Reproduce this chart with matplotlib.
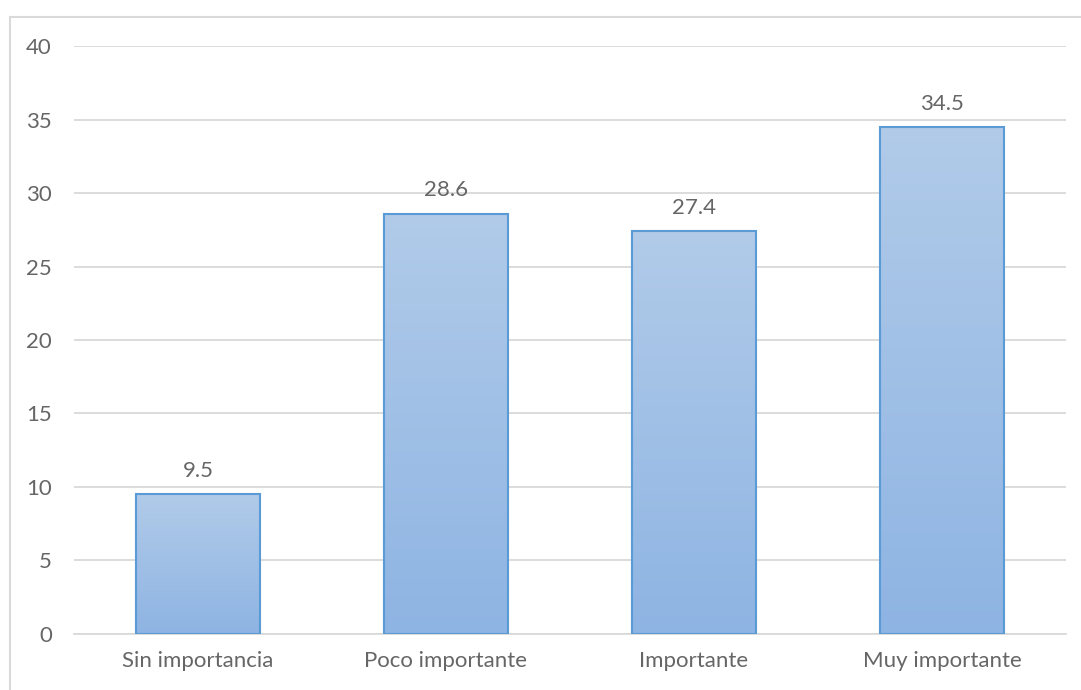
import numpy as np
import matplotlib
matplotlib.use('Agg')
import matplotlib.pyplot as plt
from matplotlib.colors import LinearSegmentedColormap
from matplotlib.patches import Rectangle

categories = ['Sin importancia', 'Poco importante', 'Importante', 'Muy importante']
values = [9.5, 28.6, 27.4, 34.5]
yticks = [0, 5, 10, 15, 20, 25, 30, 35, 40]

plt.rcParams['font.family'] = ['Lato', 'DejaVu Sans']
txt = '#666666'
fs = 16

fig = plt.figure(figsize=(10.81, 6.9), dpi=100)
ax = fig.add_axes([0.0685, 0.0812, 0.9175, 0.8521])

# outer chart border (left and top only visible)
fig.add_artist(Rectangle((10/1081, -0.1), 1.2, 1 - 17/690 + 0.1,
                         transform=fig.transFigure, fill=False,
                         edgecolor='#d9d9d9', lw=1.5))

x = np.arange(len(categories))
bars = ax.bar(x, values, width=0.5, color='none', edgecolor='#5b9bd5',
              lw=1.5, zorder=3)

cmap = LinearSegmentedColormap.from_list('g', ['#8eb4e3', '#b1cbe9'])
grad = np.linspace(0, 1, 256).reshape(-1, 1)
for b, v in zip(bars, values):
    im = ax.imshow(grad, cmap=cmap, origin='lower', aspect='auto',
                   extent=[b.get_x(), b.get_x() + b.get_width(), 0, v],
                   zorder=2)
    im.set_clip_path(b)
    ax.text(b.get_x() + b.get_width() / 2, v + 0.9, f'{v}', ha='center',
            va='bottom', fontsize=fs, color=txt)

ax.set_xlim(-0.5, len(categories) - 0.5)
ax.set_ylim(0, 40)
ax.set_yticks(yticks)
ax.set_xticks(x)
ax.set_xticklabels(categories)
ax.tick_params(length=0, labelsize=fs, labelcolor=txt)
ax.tick_params(axis='y', pad=16)
ax.tick_params(axis='x', pad=12)
ax.grid(axis='y', color='#d9d9d9', lw=1.3, zorder=0)
ax.set_axisbelow(True)
for s in ['top', 'right', 'left']:
    ax.spines[s].set_visible(False)
ax.spines['bottom'].set_color('#d9d9d9')
ax.spines['bottom'].set_linewidth(1.3)

fig.savefig('out.png', dpi=100)
